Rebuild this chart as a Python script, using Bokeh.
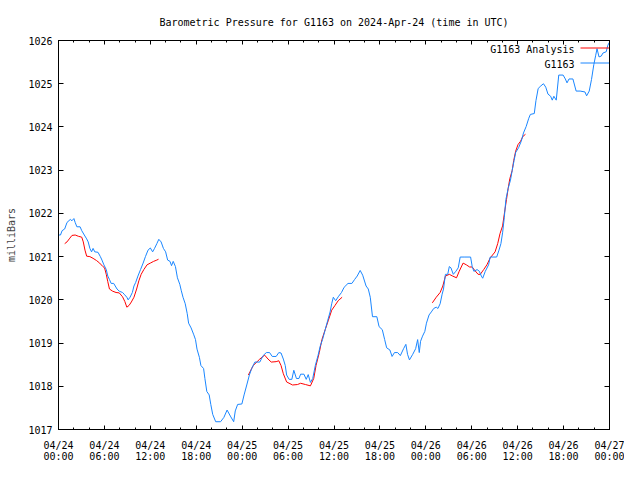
from bokeh.plotting import figure
from bokeh.models import (Range1d, FixedTicker, LinearAxis, Legend, LegendItem,
                          Label, CustomJSTickFormatter)
from bokeh.core.properties import value
from bokeh.embed import file_html
from bokeh.resources import INLINE

FONT = "DejaVu Sans Mono"

title_text = "Barometric Pressure for G1163 on 2024-Apr-24 (time in UTC)"
y_label = "milliBars"
series_names = ["G1163 Analysis", "G1163"]

# hours since 2024-04-24 00:00 UTC
x_tick_hours = [0, 6, 12, 18, 24, 30, 36, 42, 48, 54, 60, 66, 72]
x_tick_labels = ["04/24\n00:00", "04/24\n06:00", "04/24\n12:00", "04/24\n18:00",
                 "04/25\n00:00", "04/25\n06:00", "04/25\n12:00", "04/25\n18:00",
                 "04/26\n00:00", "04/26\n06:00", "04/26\n12:00", "04/26\n18:00",
                 "04/27\n00:00"]
x_minor_hours = [0, 2, 4, 6, 8, 10, 12, 14, 16, 18, 20, 22, 24, 26, 28, 30, 32, 34,
                 36, 38, 40, 42, 44, 46, 48, 50, 52, 54, 56, 58, 60, 62, 64, 66, 68, 70, 72]
y_ticks = [1017, 1018, 1019, 1020, 1021, 1022, 1023, 1024, 1025, 1026]

# observed station pressure (G1163)
station_hours = [
    0.00, 0.26, 0.47, 0.81, 1.11, 1.54, 1.76, 2.01, 2.18, 2.40, 2.82, 3.04, 3.37, 3.68,
    3.88, 4.10, 4.32, 4.52, 4.74, 5.16, 5.47, 5.68, 5.93, 6.24, 6.44, 6.66, 6.88, 7.21,
    7.65, 7.94, 8.37, 8.58, 8.93, 9.10, 9.35, 9.65, 9.86, 10.08, 10.38, 10.72, 11.06,
    11.36, 11.70, 12.00, 12.30, 12.55, 12.85, 13.11, 13.41, 13.71, 14.00, 14.26, 14.57,
    14.77, 14.99, 15.28, 15.54, 15.85, 16.05, 16.27, 16.56, 16.82, 17.00, 17.33, 17.68,
    17.90, 18.10, 18.41, 18.61, 18.96, 19.13, 19.38, 19.69, 19.90, 20.15, 20.54, 21.18,
    21.61, 22.03, 22.46, 22.89, 23.10, 23.41, 23.96, 24.25, 24.60, 24.94, 25.24, 25.66,
    26.30, 26.74, 27.16, 27.58, 27.93, 28.44, 28.79, 29.08, 29.38, 29.63, 29.81, 30.14,
    30.49, 30.75, 31.09, 31.42, 31.64, 32.07, 32.37, 32.63, 32.92, 33.22, 33.56, 33.91,
    34.20, 34.50, 34.85, 35.19, 35.49, 35.70, 35.91, 36.22, 36.55, 36.98, 37.32, 37.83,
    38.34, 38.69, 39.03, 39.42, 39.75, 40.19, 40.48, 40.74, 41.03, 41.60, 41.89, 42.31,
    42.62, 42.88, 43.30, 43.59, 43.90, 44.32, 44.67, 45.09, 45.39, 45.61, 45.86, 46.29,
    46.67, 46.93, 47.14, 47.31, 47.57, 47.87, 48.08, 48.42, 48.72, 49.03, 49.36, 49.58,
    49.87, 50.13, 50.31, 50.56, 50.86, 51.07, 51.28, 51.59, 51.92, 52.23, 52.49, 53.00,
    53.85, 54.06, 54.28, 54.70, 55.00, 55.25, 55.43, 55.77, 56.20, 56.41, 57.26, 57.56,
    57.81, 58.03, 58.25, 58.46, 58.76, 59.06, 59.28, 59.53, 59.74, 60.12, 60.47, 60.76,
    61.11, 61.45, 61.66, 62.17, 62.39, 62.68, 63.03, 63.37, 63.67, 63.96, 64.31, 64.52,
    64.73, 65.04, 65.37, 65.94, 66.23, 66.45, 66.71, 67.22, 67.64, 68.16, 68.79, 69.01,
    69.35, 69.65, 69.95, 70.20, 70.37, 70.63, 70.93, 71.14, 71.57, 71.78, 72.00]
station_mb = [
    1021.50, 1021.50, 1021.60, 1021.64, 1021.79, 1021.86, 1021.83, 1021.88, 1021.79,
    1021.69, 1021.69, 1021.60, 1021.50, 1021.41, 1021.34, 1021.19, 1021.11, 1021.19,
    1021.11, 1021.10, 1021.00, 1020.92, 1020.81, 1020.70, 1020.55, 1020.47, 1020.38,
    1020.38, 1020.25, 1020.20, 1020.17, 1020.13, 1020.06, 1020.00, 1020.06, 1020.17,
    1020.32, 1020.40, 1020.55, 1020.70, 1020.85, 1021.00, 1021.15, 1021.20, 1021.11,
    1021.19, 1021.30, 1021.40, 1021.34, 1021.19, 1021.11, 1020.92, 1020.89, 1020.79,
    1020.89, 1020.77, 1020.51, 1020.36, 1020.21, 1020.06, 1019.91, 1019.68, 1019.46,
    1019.35, 1019.19, 1019.08, 1018.86, 1018.67, 1018.48, 1018.41, 1018.18, 1017.88,
    1017.80, 1017.58, 1017.35, 1017.18, 1017.18, 1017.28, 1017.45, 1017.31, 1017.18,
    1017.43, 1017.58, 1017.59, 1017.80, 1018.03, 1018.26, 1018.41, 1018.56, 1018.56,
    1018.71, 1018.78, 1018.78, 1018.69, 1018.69, 1018.78, 1018.77, 1018.63, 1018.48,
    1018.26, 1018.16, 1018.16, 1018.37, 1018.18, 1018.18, 1018.28, 1018.28, 1018.16,
    1018.27, 1018.09, 1018.18, 1018.48, 1018.71, 1018.93, 1019.08, 1019.31, 1019.53,
    1019.72, 1019.91, 1020.06, 1019.98, 1020.07, 1020.17, 1020.29, 1020.38, 1020.38,
    1020.47, 1020.55, 1020.68, 1020.57, 1020.32, 1020.25, 1020.06, 1019.61, 1019.61,
    1019.38, 1019.31, 1019.08, 1018.89, 1018.84, 1018.69, 1018.78, 1018.78, 1018.71,
    1018.87, 1018.97, 1018.74, 1018.61, 1018.74, 1018.87, 1019.08, 1018.78, 1019.04,
    1019.16, 1019.27, 1019.46, 1019.65, 1019.72, 1019.80, 1019.83, 1019.80, 1019.91,
    1020.13, 1020.25, 1020.59, 1020.59, 1020.77, 1020.74, 1020.59, 1020.66, 1020.74,
    1020.99, 1020.99, 1020.99, 1020.77, 1020.66, 1020.70, 1020.66, 1020.55, 1020.50,
    1020.66, 1020.81, 1020.99, 1020.99, 1021.15, 1021.30, 1021.55, 1021.90, 1022.32,
    1022.58, 1022.77, 1022.99, 1023.22, 1023.41, 1023.52, 1023.67, 1023.86, 1024.01,
    1024.20, 1024.29, 1024.31, 1024.61, 1024.89, 1024.95, 1025.00, 1024.92, 1024.76,
    1024.71, 1024.62, 1024.71, 1024.62, 1025.20, 1025.20, 1025.11, 1025.02, 1025.11,
    1025.11, 1024.83, 1024.83, 1024.81, 1024.72, 1024.83, 1025.10, 1025.44, 1025.66,
    1025.81, 1025.62, 1025.64, 1025.71, 1025.74, 1025.89, 1025.96]

# analysis pressure, three runs
analysis1_hours = [0.81, 1.11, 1.41, 1.76, 2.18, 2.60, 3.04, 3.24, 3.46, 3.68, 4.10, 4.52,
                   4.96, 5.38, 5.80, 6.02, 6.24, 6.44, 6.66, 7.08, 7.52, 7.94, 8.37, 8.67,
                   8.93, 9.22, 9.52, 9.86, 10.21, 10.50, 10.80, 11.15, 11.57, 12.00, 12.43,
                   12.85, 13.07]
analysis1_mb = [1021.30, 1021.34, 1021.41, 1021.49, 1021.50, 1021.47, 1021.45, 1021.34,
                1021.15, 1021.01, 1021.00, 1020.96, 1020.91, 1020.85, 1020.77, 1020.74,
                1020.59, 1020.42, 1020.25, 1020.20, 1020.17, 1020.16, 1020.07, 1019.96,
                1019.83, 1019.87, 1019.95, 1020.06, 1020.25, 1020.44, 1020.59, 1020.70,
                1020.81, 1020.85, 1020.89, 1020.92, 1020.94]
analysis2_hours = [24.81, 25.45, 26.30, 26.94, 27.38, 27.80, 28.44, 28.79, 29.08, 29.38,
                   29.81, 30.58, 31.22, 31.64, 32.28, 32.92, 33.35, 33.65, 34.08, 34.42,
                   34.85, 35.27, 35.70, 36.13, 36.55, 37.06]
analysis2_mb = [1018.26, 1018.48, 1018.63, 1018.72, 1018.63, 1018.56, 1018.57, 1018.59,
                1018.48, 1018.29, 1018.10, 1018.03, 1018.04, 1018.07, 1018.04, 1018.01,
                1018.18, 1018.48, 1018.78, 1019.08, 1019.31, 1019.53, 1019.76, 1019.87,
                1019.98, 1020.06]
analysis3_hours = [48.85, 49.36, 49.87, 50.22, 50.56, 51.07, 51.50, 52.01, 52.36, 52.87,
                   53.29, 53.72, 54.06, 54.40, 54.83, 55.12, 55.56, 55.98, 56.41, 57.05,
                   57.39, 57.69, 58.03, 58.25, 58.54, 58.76, 58.97, 59.28, 59.48, 59.74,
                   60.04, 60.38, 60.68, 61.02]
analysis3_mb = [1019.93, 1020.06, 1020.17, 1020.32, 1020.55, 1020.59, 1020.55, 1020.51,
                1020.66, 1020.85, 1020.81, 1020.76, 1020.76, 1020.68, 1020.59, 1020.59,
                1020.70, 1020.81, 1020.97, 1021.11, 1021.30, 1021.53, 1021.71, 1021.98,
                1022.32, 1022.58, 1022.80, 1022.99, 1023.22, 1023.44, 1023.59, 1023.67,
                1023.78, 1023.83]

RED = "#ff0000"
BLUE = "#1a86ff"

p = figure(width=624, height=464, output_backend="svg", toolbar_location=None,
           x_range=Range1d(0, 72), y_range=Range1d(1017, 1026),
           min_border_left=58, min_border_right=15, min_border_top=40,
           min_border_bottom=34)
p.background_fill_color = "white"
p.border_fill_color = "white"
p.outline_line_color = "black"
p.outline_line_width = 1
p.xgrid.grid_line_color = None
p.ygrid.grid_line_color = None

# title
p.title.text = title_text
p.title.align = "center"
p.title.text_font = FONT
p.title.text_font_size = "10px"
p.title.text_font_style = "normal"
p.title.text_color = "black"
p.title.standoff = 26

# bottom axis
xt = FixedTicker(ticks=x_tick_hours, minor_ticks=x_minor_hours)
xa = p.xaxis[0]
xa.ticker = xt
xa.major_label_overrides = dict(zip(x_tick_hours, x_tick_labels))
xa.major_tick_in = 4
xa.major_tick_out = 0
xa.minor_tick_in = 2
xa.minor_tick_out = 0
xa.major_label_standoff = 10
xa.major_label_text_font = FONT
xa.major_label_text_font_size = "10px"
xa.major_label_text_line_height = 1.0
xa.major_label_text_color = "black"
xa.axis_line_color = "black"

# left axis
ya = p.yaxis[0]
ya.ticker = FixedTicker(ticks=y_ticks, minor_ticks=[])
ya.major_tick_in = 5
ya.major_tick_out = 0
ya.minor_tick_line_color = None
ya.major_label_standoff = 6
ya.major_label_text_font = FONT
ya.major_label_text_font_size = "10px"
ya.major_label_text_color = "black"
ya.axis_label = y_label
ya.axis_label_text_font = FONT
ya.axis_label_text_font_size = "10px"
ya.axis_label_text_font_style = "normal"
ya.axis_label_standoff = 8
ya.axis_line_color = "black"

# mirrored axes
top = LinearAxis(ticker=FixedTicker(ticks=x_tick_hours, minor_ticks=x_minor_hours),
                 formatter=CustomJSTickFormatter(code="return ''"),
                 major_tick_in=4, major_tick_out=0,
                 minor_tick_in=2, minor_tick_out=0, major_label_standoff=0,
                 axis_line_color="black")
p.add_layout(top, "above")
right = LinearAxis(ticker=FixedTicker(ticks=y_ticks, minor_ticks=[]),
                   formatter=CustomJSTickFormatter(code="return ''"),
                   major_tick_in=5, major_tick_out=0, minor_tick_line_color=None,
                   major_label_standoff=0, axis_line_color="black")
p.add_layout(right, "right")

r_red = p.multi_line(xs=[analysis1_hours, analysis2_hours, analysis3_hours],
                     ys=[analysis1_mb, analysis2_mb, analysis3_mb],
                     line_color=RED, line_width=1)
r_blue = p.line(station_hours, station_mb, line_color=BLUE, line_width=1)

legend = Legend(items=[LegendItem(label=value(""), renderers=[r_red]),
                       LegendItem(label=value(""), renderers=[r_blue])],
                location="top_right", margin=0, padding=2, spacing=0,
                glyph_width=29, glyph_height=15, label_standoff=0, label_width=0,
                label_height=0, border_line_color=None, background_fill_alpha=0,
                label_text_font=FONT, label_text_font_size="10px")
p.add_layout(legend)

for txt, yy in zip(series_names, [380.5, 365.5]):
    p.add_layout(Label(x=516, y=yy, x_units="screen", y_units="screen", text=txt,
                       text_align="right", text_baseline="middle", text_font=FONT,
                       text_font_size="10px", text_color="black"))

open("out.html", "w").write(file_html(p, INLINE))
